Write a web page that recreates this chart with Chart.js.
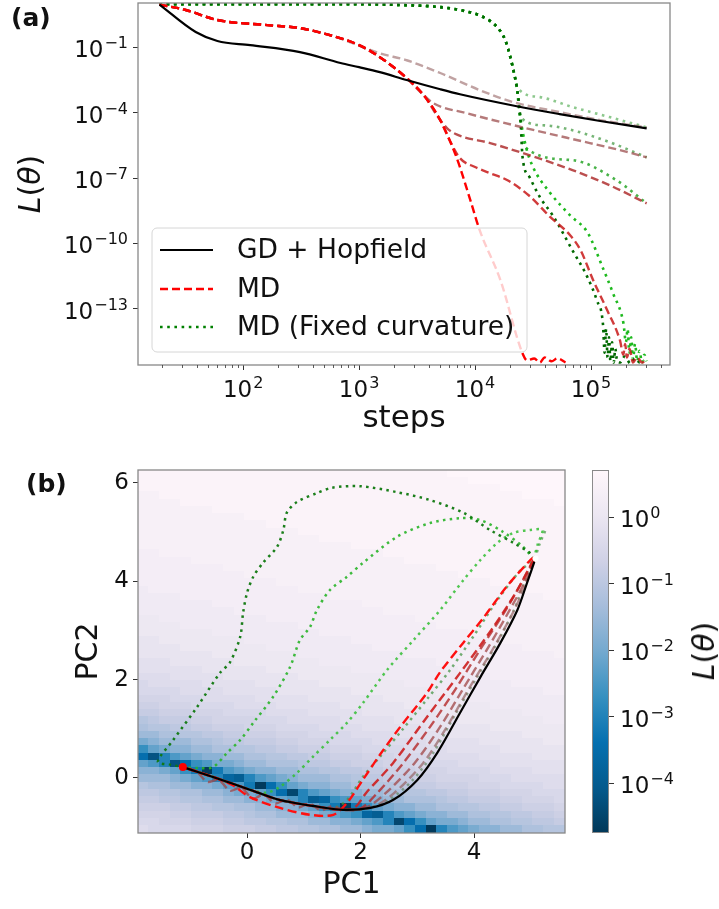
<!DOCTYPE html>
<html><head><meta charset="utf-8">
<script src="https://cdn.jsdelivr.net/npm/chart.js@4.4.0/dist/chart.umd.min.js"></script>
<style>
html,body{margin:0;padding:0;background:#fff;}
#wrap{position:relative;width:719px;height:909px;overflow:hidden;font-family:"DejaVu Sans",sans-serif;}
canvas{position:absolute;left:0;top:0;}
.lbl{position:absolute;color:#111;white-space:nowrap;line-height:1;}
.rot{transform:translate(-50%,-50%) rotate(-90deg);font-size:30px;}
</style></head><body>
<div id="wrap">
<canvas id="cTop" width="719" height="909"></canvas>
<canvas id="cBot" width="719" height="909"></canvas>
<canvas id="cBar" width="719" height="909"></canvas>
<div class="lbl" style="left:11px;top:17px;transform:translateY(-50%);font-weight:bold;font-size:25px;">(a)</div>
<div class="lbl" style="left:26px;top:483px;transform:translateY(-50%);font-weight:bold;font-size:25px;">(b)</div>
<div class="lbl rot" style="left:30px;top:184px;"><i>L</i>(<i>θ</i>)</div>
<div class="lbl rot" style="left:704px;top:651px;"><i>L</i>(<i>θ</i>)</div>
</div>
<script>
// ---------------- (a) loss curves: steps vs L(theta) ----------------
const gdSteps = [19, 39, 60, 115, 309, 692, 1000, 1510, 2570, 5010, 7410, 22900, 53700, 120000, 302000];
const gdLoss  = [8.9, 0.49, 0.19, 0.123, 0.059, 0.0186, 0.012, 0.0071, 0.0031, 0.00117, 6.9e-4, 1.95e-4, 8.5e-5, 4.1e-5, 1.9e-5];

const md1Steps = [19, 32, 60, 162, 309, 603, 1000, 1510, 2570, 3715, 5010, 6920, 9120, 10960, 16600, 25700, 28200, 32400, 36300, 39800, 45700, 51300, 60300];
const md1Loss  = [8.9, 5.0, 1.74, 1.02, 0.74, 0.316, 0.123, 0.0347, 0.0038, 5.1e-4, 4.5e-5, 8.9e-7, 9.5e-9, 4.1e-10, 2.0e-12, 9.1e-16, 4.4e-16, 5.4e-16, 3.5e-16, 6.0e-16, 4.0e-16, 5.4e-16, 3.5e-16];
const md2Steps = [19, 32, 60, 162, 309, 603, 1000, 1510, 2570, 3715, 5010, 6030, 7410, 10000, 13500, 19050, 29510, 44670, 66070, 81280, 104700, 138000, 177800, 190000, 197000, 204200, 215000, 230000, 250000, 275400, 302000];
const md2Loss  = [8.9, 5.0, 1.74, 1.02, 0.74, 0.316, 0.123, 0.0347, 0.0038, 5.1e-4, 4.5e-5, 5.4e-6, 8.1e-7, 3.2e-7, 1.66e-7, 7.9e-8, 1.5e-8, 1.6e-9, 2.4e-10, 4.9e-11, 2.0e-12, 8.7e-14, 3.6e-15, 8e-16, 2.5e-15, 6e-16, 1.5e-15, 3.5e-16, 6e-16, 3.5e-16, 4.5e-16];
const md3Steps = [19, 32, 60, 162, 309, 603, 1000, 1510, 2570, 3715, 4677, 5750, 6920, 13500, 25700, 69180, 144500, 302000];
const md3Loss  = [8.9, 5.0, 1.74, 1.02, 0.74, 0.316, 0.123, 0.0347, 0.0038, 5.1e-4, 7.6e-5, 1.9e-5, 1.0e-5, 4.0e-6, 1.4e-6, 2.3e-7, 4.7e-8, 6.9e-9];
const md4Steps = [19, 32, 60, 162, 309, 603, 1000, 1510, 2570, 3388, 4365, 8511, 25700, 97720, 177800, 302000];
const md4Loss  = [8.9, 5.0, 1.74, 1.02, 0.74, 0.316, 0.123, 0.0347, 0.0038, 8.7e-4, 2.7e-4, 9.3e-5, 2.1e-5, 4.0e-6, 1.9e-6, 8.9e-7];
const md5Steps = [19, 32, 60, 162, 309, 603, 832, 1510, 2570, 5010, 10960, 21380, 53700, 120200, 302000];
const md5Loss  = [8.9, 5.0, 1.74, 1.02, 0.74, 0.316, 0.17, 0.052, 0.025, 0.0065, 0.00107, 3.0e-4, 1.05e-4, 4.5e-5, 2.1e-5];

const fcaSteps = [19, 115, 692, 2240, 5010, 8130, 11750, 15490, 18200, 19950, 21880, 22900, 24550, 25700, 29510, 36310, 46770, 69180, 93330, 112200, 126800, 131000, 135000, 139000, 143000, 147000, 152000, 157000, 162000, 168000, 178000, 195000, 219000, 240000, 263000, 288000];
const fcaLoss  = [9.3, 9.3, 9.3, 8.5, 6.8, 4.5, 2.4, 0.83, 0.21, 0.043, 0.0052, 0.0015, 6.2e-5, 8.9e-7, 1.1e-7, 1.3e-8, 1.95e-9, 4.9e-11, 2.8e-12, 2.5e-13, 2e-14, 1e-15, 1.2e-14, 6e-16, 5e-15, 4e-16, 3e-15, 3.5e-16, 1.5e-15, 4e-16, 3.5e-16, 6.6e-16, 3.2e-16, 5.4e-16, 3.5e-16, 4.4e-16];
const fcbSteps = [19, 115, 692, 2240, 5010, 8130, 11750, 15490, 18200, 19950, 21880, 22900, 24550, 27540, 31620, 44670, 66070, 93330, 125900, 154900, 190500, 200000, 207000, 214000, 222000, 230000, 240000, 250000, 262000, 275000, 288000, 302000];
const fcbLoss  = [9.3, 9.3, 9.3, 8.5, 6.8, 4.5, 2.4, 0.83, 0.21, 0.043, 0.0052, 0.0015, 6.2e-5, 2.6e-6, 3.2e-7, 2.0e-8, 1.95e-9, 3.2e-10, 8.1e-12, 5.2e-13, 2.2e-14, 3e-15, 1.2e-14, 1e-15, 5e-15, 5e-16, 2.5e-15, 4e-16, 1.2e-15, 3.5e-16, 8e-16, 4e-16];
const fccSteps = [19, 115, 692, 2240, 5010, 8130, 11750, 15490, 18200, 19950, 21880, 22900, 24550, 26920, 69180, 166000, 302000];
const fccLoss  = [9.3, 9.3, 9.3, 8.5, 6.8, 4.5, 2.4, 0.83, 0.21, 0.043, 0.0052, 0.0015, 6.2e-5, 2.6e-6, 6.6e-7, 7.9e-8, 6.9e-9];
const fcdSteps = [19, 115, 692, 2240, 5010, 8130, 11750, 15490, 18200, 19950, 21880, 22900, 24550, 39810, 69180, 144500, 302000];
const fcdLoss  = [9.3, 9.3, 9.3, 8.5, 6.8, 4.5, 2.4, 0.83, 0.21, 0.043, 0.0052, 0.0015, 6.2e-5, 2.6e-5, 1.55e-5, 4.4e-6, 8.9e-7];
const fceSteps = [19, 115, 692, 2240, 5010, 8130, 11750, 15490, 18200, 19950, 21880, 22900, 36310, 69180, 144500, 302000];
const fceLoss  = [9.3, 9.3, 9.3, 8.5, 6.8, 4.5, 2.4, 0.83, 0.21, 0.043, 0.0052, 0.0015, 5.1e-4, 1.8e-4, 6.2e-5, 2.1e-5];

const stepTicks = [1e2, 1e3, 1e4, 1e5];
const stepTickLabels = ['10^2', '10^3', '10^4', '10^5'];
const lossTicks = [1e-1, 1e-4, 1e-7, 1e-10, 1e-13];
const lossTickLabels = ['10^−1', '10^−4', '10^−7', '10^−10', '10^−13'];
const legendLabels = ['GD + Hopfield', 'MD', 'MD (Fixed curvature)'];

// ---------------- (b) trajectories in PC1 / PC2 ----------------
const gdPC1 = [5.06, 4.93, 4.76, 4.46, 4.11, 3.75, 3.35, 3.0, 2.57, 2.17, 1.69, 1.16, 0.58, 0.05, -0.6, -1.13];
const gdPC2 = [4.39, 3.96, 3.41, 2.74, 2.05, 1.32, 0.51, -0.04, -0.45, -0.61, -0.65, -0.57, -0.45, -0.24, 0.02, 0.22];
const md1PC1 = [5.05, 4.99, 4.58, 4.16, 3.81, 3.40, 3.17, 2.70, 2.34, 2.04, 1.76, 1.52, 1.11, 0.58, 0.05, -0.25, -0.6, -1.13];
const md1PC2 = [4.48, 4.43, 3.90, 3.25, 2.75, 2.15, 1.73, 1.04, 0.47, -0.04, -0.51, -0.75, -0.75, -0.61, -0.39, -0.15, 0.02, 0.22];
const md2PC1 = [5.05, 4.75, 4.34, 3.75, 3.17, 2.57, 2.1, 1.9, 1.69, 1.16, 0.58, 0.05, -0.6, -1.13];
const md2PC2 = [4.45, 3.8, 3.07, 2.13, 1.24, 0.3, -0.3, -0.6, -0.65, -0.57, -0.45, -0.24, 0.02, 0.22];
const md3PC1 = [5.05, 4.85, 4.55, 4.1, 3.67, 3.2, 2.75, 2.3, 2.0, 1.69, 1.16, 0.58, 0.05, -0.6, -1.13];
const md3PC2 = [4.42, 4.0, 3.4, 2.6, 1.8, 1.0, 0.3, -0.3, -0.62, -0.65, -0.57, -0.45, -0.24, 0.02, 0.22];
const md4PC1 = [5.05, 4.9, 4.62, 4.22, 3.8, 3.38, 2.95, 2.45, 2.1, 1.69, 1.5, 1.3, 1.1, 0.9, 0.7, 0.5, 0.3, 0.1, -0.1, -0.3, -0.5, -0.7, -0.9, -1.13];
const md4PC2 = [4.42, 4.0, 3.4, 2.6, 1.8, 1.0, 0.3, -0.3, -0.6, -0.65, -0.57, -0.66, -0.52, -0.6, -0.44, -0.52, -0.34, -0.42, -0.2, -0.26, -0.04, -0.08, 0.14, 0.22];
const md5PC1 = [5.05, 4.93, 4.7, 4.32, 3.9, 3.5, 3.1, 2.6, 2.2, 1.69, 1.16, 0.58, 0.05, -0.6, -1.13];
const md5PC2 = [4.42, 4.0, 3.4, 2.6, 1.8, 1.0, 0.3, -0.3, -0.6, -0.65, -0.57, -0.45, -0.24, 0.02, 0.22];
const fc1PC1 = [5.05, 4.99, 4.69, 4.28, 3.81, 3.22, 2.64, 1.99, 1.5, 1.23, 0.88, 0.7, 0.64, 0.53, 0.28, 0.11, 0.0, -0.07, -0.12, -0.3, -0.48, -0.88, -1.3, -1.57, -1.35, -1.13];
const fc1PC2 = [4.45, 4.57, 4.78, 5.04, 5.39, 5.65, 5.81, 5.93, 5.9, 5.79, 5.61, 5.39, 5.04, 4.70, 4.37, 4.09, 3.76, 3.35, 2.87, 2.35, 2.13, 1.44, 0.77, 0.33, 0.27, 0.22];
const fc2PC1 = [5.05, 4.86, 4.51, 4.11, 3.75, 3.22, 2.64, 2.04, 1.76, 1.46, 1.23, 1.11, 0.93, 0.76, 0.46, 0.11, -0.12, -0.35, -0.6, -0.85, -1.13];
const fc2PC2 = [4.45, 4.7, 5.0, 5.24, 5.28, 5.18, 4.9, 4.37, 4.09, 3.82, 3.41, 3.07, 2.8, 2.26, 1.65, 1.12, 0.77, 0.51, 0.22, 0.2, 0.22];
const fc3PC1 = [5.05, 5.12, 5.2, 4.99, 4.69, 4.41, 4.11, 3.81, 3.4, 2.93, 2.47, 2.04, 1.76, 1.46, 1.16, 0.88, 0.58, 0.35, 0.05, -0.6, -1.13];
const fc3PC2 = [4.45, 4.75, 5.04, 5.04, 4.98, 4.78, 4.43, 4.02, 3.41, 2.8, 2.2, 1.52, 1.12, 0.77, 0.43, 0.1, -0.18, -0.3, -0.24, 0.02, 0.22];
const fc4PC1 = [5.25, 5.15, 5.05, 4.8, 4.4, 4.0, 3.58, 3.17, 2.75, 2.34, 2.04, 1.76, 1.5, 1.16, 0.58, 0.05, -0.6, -1.13];
const fc4PC2 = [5.02, 4.75, 4.45, 4.2, 3.6, 2.9, 2.2, 1.6, 1.0, 0.43, 0.02, -0.45, -0.62, -0.57, -0.45, -0.24, 0.02, 0.22];
const fc5PC1 = [5.05, 4.88, 4.7, 4.4, 4.05, 3.68, 3.28, 2.92, 2.5, 2.1, 1.69, 1.16, 0.58, 0.05, -0.6, -1.13];
const fc5PC2 = [4.45, 3.96, 3.41, 2.74, 2.05, 1.32, 0.51, -0.04, -0.45, -0.62, -0.65, -0.57, -0.45, -0.24, 0.02, 0.22];
const minimumPoint = [-1.13, 0.22];
const startPoint = [5.08, 4.46];
const pcTicksX = [0, 2, 4];
const pcTicksY = [0, 2, 4, 6];

// loss landscape grid, top row first. Letter = level (a=0 ... w=22), upper case = +0.5 level,
// log10 L = heatLevelLog0 + heatLevelStep * level ; digits = run length
const heatLevelLog0 = -4.7, heatLevelStep = 0.25;
const heatPC1Range = [-1.92, 5.60], heatPC2Range = [-1.12, 6.26];
const heatRows = [
 "v29V11","v31V9","v34V6","U2v34V4","U4v35V","U7v33","U10v30","U12v28","U15v25","U17v23",
 "U20v20","u2U21v17","u5U20v15","u8U20v12","u10U20v10","u13U20v7","Tu14U21v4","T4u14U20v2","T7u14U19","T9u14U17",
 "t2T10u14U14","t4T11u13U12","t7T10u14U9","S2t8T10u14U6","S4t8T10u14U4","S7t8T10u14U","s3S6t8T11u12","s6S6t8T10u10","R3s5S7t8T10u7","rR5s5S6t8T10u5",
 "r4R4s5S7t8T10u2","Q3r3R5s5S7t8T9","q2Q3r4R4s6S6t8T7","P2q3Q3r4R4s5S7t8T4","OpP3q2Q4r3R5s5S6t8T2","oO2p2P2q3Q3r4R4s6S6t7","n2o2O2p2P2q3Q3r4R4s5S7t4","lmn3o2Op2P3q2Q3r4R5s5S6t2","iklm2n2o2O2p2P2q3Q3r4R4s5S6","fchjklm2n2o2O2p2P2q3Q3r3R5s5S3",
 "kjhcfijl2mn2o3Op2P2q3Q3r4R4s6","m2lkigagjklm2n2o2O2p2P2q3Q3r4R4s3","n3mlkjhedhjklmn3o2Op2P3q2Q4r3R5","Oo2n2m2lkjgafiklm2n2o2O2p2P2q3Q3r4R2","p2O2o2n2ml2kifbhjklm2n2o2O2p2P2q3Q3r3","P2p2O2o2n2m2lkjhdeijklmn2o3Op2P3q2Q3r","q3P2p2O2o2n2m2lkigagiklm2n2o2O2p2P2q3Q","Q3q2P3p2Oo2n3mlkjiedhjklm2n2o2O2p2P2q","r2Q3q3P2p2O2o2n2m2lkjhbfikl2mn2o2O2p2P","Rr4Q3q3P2p2O2o2n2ml2kifahjklm2n2o2O2"
];

// colour bar
const cbMin = 1.78e-5, cbMax = 5.13;
const cbTicks = [1e0, 1e-1, 1e-2, 1e-3, 1e-4];
const cbTickLabels = ['10^0', '10^−1', '10^−2', '10^−3', '10^−4'];
const PUBU_R = ['#023858','#045a8d','#0570b0','#3690c0','#74a9cf','#a6bddb','#d0d1e6','#ece7f2','#fff7fb'];

// ---------------- helpers ----------------
Chart.defaults.font.family = '"DejaVu Sans", sans-serif';
Chart.defaults.color = '#111';
const pts = (xs, ys) => xs.map((x, i) => ({x, y: ys[i]}));
function hexRgb(h){ return [parseInt(h.substr(1,2),16), parseInt(h.substr(3,2),16), parseInt(h.substr(5,2),16)]; }
const PUBU_RGB = PUBU_R.map(hexRgb);
function cmapLog(lv){
  const lo = Math.log10(cbMin), hi = Math.log10(cbMax);
  let f = (lv - lo) / (hi - lo); f = Math.max(0, Math.min(1, f));
  const p = f * (PUBU_RGB.length - 1); const i = Math.min(Math.floor(p), PUBU_RGB.length - 2); const t = p - i;
  const a = PUBU_RGB[i], b = PUBU_RGB[i+1];
  return 'rgb(' + [0,1,2].map(k => Math.round(a[k] + (b[k]-a[k]) * t)).join(',') + ')';
}
function decodeRow(s){ const out = []; s.replace(/([a-zA-Z])(\d*)/g, (m, ch, n) => { const k = n ? +n : 1;
  const lo = ch.toLowerCase(); const lev = lo.charCodeAt(0) - 97 + (ch === lo ? 0 : 0.5);
  for (let i = 0; i < k; i++) out.push(lev); return m; }); return out; }

const TICK_FONT = '23px "DejaVu Sans"', SUP_FONT = '16px "DejaVu Sans"';
function drawSup(ctx, label, x, yBase, align){
  const [base, exp] = label.split('^');
  ctx.font = TICK_FONT; const wb = ctx.measureText(base).width;
  ctx.font = SUP_FONT; const we = ctx.measureText(exp).width;
  const w = wb + 1 + we;
  const x0 = align === 'right' ? x - w : align === 'center' ? x - w / 2 : x;
  ctx.fillStyle = '#111'; ctx.textAlign = 'left'; ctx.textBaseline = 'alphabetic';
  ctx.font = TICK_FONT; ctx.fillText(base, x0, yBase);
  ctx.font = SUP_FONT; ctx.fillText(exp, x0 + wb + 1, yBase - 9);
}

const framePlugin = {id:'frame', afterDatasetsDraw(chart){
  const a = chart.chartArea, c = chart.ctx; c.save(); c.strokeStyle = '#888'; c.lineWidth = 1.3;
  c.strokeRect(a.left, a.top, a.right - a.left, a.bottom - a.top); c.restore(); }};

const topLabelPlugin = {id:'toplabels', afterDraw(chart){
  const {ctx, chartArea: a, scales: {x, y}} = chart; ctx.save();
  stepTicks.forEach((v, i) => drawSup(ctx, stepTickLabels[i], x.getPixelForValue(v), a.bottom + 32, 'center'));
  lossTicks.forEach((v, i) => drawSup(ctx, lossTickLabels[i], a.left - 10, y.getPixelForValue(v) + 10, 'right'));
  ctx.strokeStyle = '#333'; ctx.lineWidth = 0.8;
  for (let d = 1; d <= 5; d++) for (let m = 2; m <= 9; m++) { const v = m * Math.pow(10, d);
    if (v < x.min || v > x.max) continue; const px = Math.round(x.getPixelForValue(v)) + 0.5;
    ctx.beginPath(); ctx.moveTo(px, a.bottom); ctx.lineTo(px, a.bottom + 3); ctx.stroke(); }
  ctx.restore(); }};

const legendPlugin = {id:'lg', afterDraw(chart){
  const c = chart.ctx; c.save();
  const bx = 152, by = 228, bw = 375, bh = 124, r = 5;
  c.beginPath(); c.moveTo(bx + r, by); c.arcTo(bx + bw, by, bx + bw, by + bh, r); c.arcTo(bx + bw, by + bh, bx, by + bh, r);
  c.arcTo(bx, by + bh, bx, by, r); c.arcTo(bx, by, bx + bw, by, r); c.closePath();
  c.fillStyle = 'rgba(255,255,255,0.8)'; c.fill(); c.strokeStyle = '#d6d6d6'; c.lineWidth = 1; c.stroke();
  const ys = [250, 289, 327];
  const styles = [{col:'#000', dash:[], w:2.2}, {col:'#ff0000', dash:[8,4], w:2.4}, {col:'#008000', dash:[2.6,4.6], w:2.6}];
  styles.forEach((s, i) => { c.beginPath(); c.setLineDash(s.dash); c.strokeStyle = s.col; c.lineWidth = s.w;
    c.moveTo(160, ys[i]); c.lineTo(213, ys[i]); c.stroke(); });
  c.setLineDash([]); c.fillStyle = '#111'; c.font = '26.5px "DejaVu Sans"'; c.textBaseline = 'middle'; c.textAlign = 'left';
  legendLabels.forEach((t, i) => c.fillText(t, 237, ys[i] + 1));
  c.restore(); }};

const heatPlugin = {id:'heat', beforeDatasetsDraw(chart){
  const {ctx, chartArea: a, scales: {x, y}} = chart;
  const rows = heatRows.map(decodeRow); const nR = rows.length, nC = rows[0].length;
  const dx = (heatPC1Range[1] - heatPC1Range[0]) / nC, dy = (heatPC2Range[1] - heatPC2Range[0]) / nR;
  ctx.save(); ctx.beginPath(); ctx.rect(a.left, a.top, a.right - a.left, a.bottom - a.top); ctx.clip();
  for (let r = 0; r < nR; r++) {
    const yTop = heatPC2Range[1] - r * dy, yBot = yTop - dy;
    const pt = Math.floor(y.getPixelForValue(yTop)), pb = Math.ceil(y.getPixelForValue(yBot));
    for (let cI = 0; cI < nC; cI++) {
      const x0 = heatPC1Range[0] + cI * dx;
      const pl = Math.floor(x.getPixelForValue(x0)), pr = Math.ceil(x.getPixelForValue(x0 + dx));
      ctx.fillStyle = cmapLog(heatLevelLog0 + heatLevelStep * rows[r][cI]);
      ctx.fillRect(pl, pt, pr - pl, pb - pt);
    }
  }
  ctx.restore(); }};

const cbLabelPlugin = {id:'cblabels', afterDraw(chart){
  const {ctx, chartArea: a, scales: {y}} = chart; ctx.save();
  cbTicks.forEach((v, i) => drawSup(ctx, cbTickLabels[i], a.right + 11, y.getPixelForValue(v) + 10, 'left'));
  ctx.restore(); }};

const tickFont = {size: 23};
const lineDs = (label, xs, ys, col, w, dash, extra) => Object.assign({label, data: pts(xs, ys), borderColor: col, backgroundColor: col,
  borderWidth: w, borderDash: dash, showLine: true, pointRadius: 0, borderCapStyle: 'butt', fill: false}, extra || {});
const DASH = [8, 4], DOT = [2.6, 4.6];
const mono = {cubicInterpolationMode: 'monotone'};
const tickGrid = {display: true, drawOnChartArea: false, drawTicks: true, tickLength: 5, tickColor: '#333'};

// ---------------- chart (a) ----------------
new Chart(document.getElementById('cTop'), {
  type: 'scatter',
  data: {datasets: [
    lineDs('GD + Hopfield', gdSteps, gdLoss, '#000', 2.2, [], mono),
    lineDs('MD', md1Steps, md1Loss, '#ff0000', 2.4, DASH, mono),
    lineDs('MD', md2Steps, md2Loss, 'rgba(200,25,25,0.85)', 2.4, DASH, mono),
    lineDs('MD', md3Steps, md3Loss, 'rgba(170,35,35,0.8)', 2.4, DASH, mono),
    lineDs('MD', md4Steps, md4Loss, 'rgba(150,65,65,0.7)', 2.4, DASH, mono),
    lineDs('MD', md5Steps, md5Loss, 'rgba(150,100,100,0.6)', 2.4, DASH, mono),
    lineDs('MD (Fixed curvature)', fcaSteps, fcaLoss, 'rgb(0,105,0)', 2.6, DOT, mono),
    lineDs('MD (Fixed curvature)', fcbSteps, fcbLoss, 'rgb(30,185,30)', 2.6, DOT, mono),
    lineDs('MD (Fixed curvature)', fccSteps, fccLoss, 'rgba(40,165,40,0.85)', 2.6, DOT, mono),
    lineDs('MD (Fixed curvature)', fcdSteps, fcdLoss, 'rgba(60,150,60,0.7)', 2.6, DOT, mono),
    lineDs('MD (Fixed curvature)', fceSteps, fceLoss, 'rgba(80,170,80,0.65)', 2.6, DOT, mono)
  ]},
  options: {
    responsive: false, animation: false, devicePixelRatio: 1,
    layout: {padding: {left: 0, top: 3, right: 49, bottom: 467}},
    plugins: {legend: {display: false}, tooltip: {enabled: false}},
    scales: {
      x: {type: 'logarithmic', min: 12.4, max: 4.8e5,
        afterFit(s){ s.height = 77; },
        afterBuildTicks(s){ s.ticks = stepTicks.map(v => ({value: v})); },
        ticks: {display: false, autoSkip: false},
        grid: tickGrid, border: {display: false},
        title: {display: true, text: 'steps', font: {size: 31}, color: '#111', padding: {top: 0, bottom: 4}}},
      y: {type: 'logarithmic', min: 2.7e-16, max: 10.5,
        afterFit(s){ s.width = 138; },
        afterBuildTicks(s){ s.ticks = lossTicks.map(v => ({value: v})); },
        ticks: {display: false, autoSkip: false},
        grid: tickGrid, border: {display: false}}
    }
  },
  plugins: [framePlugin, topLabelPlugin, legendPlugin]
});

// ---------------- chart (b) ----------------
const sm = {tension: 0.3};
new Chart(document.getElementById('cBot'), {
  type: 'scatter',
  data: {datasets: [
    {label: 'start', data: [{x: startPoint[0], y: startPoint[1]}], pointRadius: 3, backgroundColor: '#fff', borderColor: '#fff', borderWidth: 0},
    {label: 'min', data: [{x: minimumPoint[0], y: minimumPoint[1]}], pointRadius: 4, backgroundColor: '#ff0000', borderColor: '#ff0000', borderWidth: 0},
    lineDs('GD + Hopfield', gdPC1, gdPC2, '#000', 2.2, [], sm),
    lineDs('MD', md1PC1, md1PC2, '#ff1010', 2.4, [9, 4.5], sm),
    lineDs('MD', md2PC1, md2PC2, 'rgba(205,30,30,0.9)', 2.4, [9, 4.5], sm),
    lineDs('MD', md3PC1, md3PC2, 'rgba(180,40,40,0.8)', 2.4, [9, 4.5], sm),
    lineDs('MD', md4PC1, md4PC2, 'rgba(160,70,70,0.75)', 2.4, [9, 4.5], sm),
    lineDs('MD', md5PC1, md5PC2, 'rgba(150,100,100,0.7)', 2.4, [9, 4.5], sm),
    lineDs('MD (Fixed curvature)', fc1PC1, fc1PC2, 'rgba(15,120,15,0.95)', 2.5, [2.5, 4.3], sm),
    lineDs('MD (Fixed curvature)', fc2PC1, fc2PC2, 'rgba(40,180,40,0.9)', 2.5, [2.5, 4.3], sm),
    lineDs('MD (Fixed curvature)', fc3PC1, fc3PC2, 'rgba(50,190,50,0.85)', 2.5, [2.5, 4.3], sm),
    lineDs('MD (Fixed curvature)', fc4PC1, fc4PC2, 'rgba(70,150,70,0.75)', 2.5, [2.5, 4.3], sm),
    lineDs('MD (Fixed curvature)', fc5PC1, fc5PC2, 'rgba(90,130,90,0.65)', 2.5, [2.5, 4.3], sm)
  ]},
  options: {
    responsive: false, animation: false, devicePixelRatio: 1,
    layout: {padding: {left: 0, top: 470, right: 154, bottom: 2}},
    plugins: {legend: {display: false}, tooltip: {enabled: false}},
    scales: {
      x: {type: 'linear', min: heatPC1Range[0], max: heatPC1Range[1],
        afterFit(s){ s.height = 74; },
        afterBuildTicks(s){ s.ticks = pcTicksX.map(v => ({value: v})); },
        ticks: {callback: v => String(v), font: tickFont, color: '#111', padding: 1, maxRotation: 0, autoSkip: false},
        grid: tickGrid, border: {display: false},
        title: {display: true, text: 'PC1', font: {size: 30}, color: '#111', padding: {top: 0, bottom: 4}}},
      y: {type: 'linear', min: heatPC2Range[0], max: heatPC2Range[1],
        afterFit(s){ s.width = 138; },
        afterBuildTicks(s){ s.ticks = pcTicksY.map(v => ({value: v})); },
        ticks: {callback: v => String(v), font: tickFont, color: '#111', padding: 4, autoSkip: false},
        grid: tickGrid, border: {display: false},
        title: {display: true, text: 'PC2', font: {size: 30}, color: '#111', padding: {top: 71, bottom: 0}}}
    }
  },
  plugins: [heatPlugin, framePlugin]
});

// ---------------- colour bar ----------------
new Chart(document.getElementById('cBar'), {
  type: 'bar',
  data: {labels: [''], datasets: [{data: [[cbMin, cbMax]],
    backgroundColor: (ctx) => { const ch = ctx.chart, a = ch.chartArea; if (!a) return '#888';
      const g = ch.ctx.createLinearGradient(0, a.bottom, 0, a.top);
      PUBU_R.forEach((col, i) => g.addColorStop(i / (PUBU_R.length - 1), col)); return g; },
    borderColor: '#888', borderWidth: 1.3, borderSkipped: false, barPercentage: 1, categoryPercentage: 1}]},
  options: {
    responsive: false, animation: false, devicePixelRatio: 1,
    layout: {padding: {left: 592, top: 470, right: 0, bottom: 76}},
    plugins: {legend: {display: false}, tooltip: {enabled: false}},
    scales: {
      x: {display: false},
      y: {type: 'logarithmic', position: 'right', min: cbMin, max: cbMax,
        afterFit(s){ s.width = 110; },
        afterBuildTicks(s){ s.ticks = cbTicks.map(v => ({value: v})); },
        ticks: {display: false, autoSkip: false},
        grid: tickGrid, border: {display: false}}
    }
  },
  plugins: [cbLabelPlugin]
});
</script>
</body></html>
